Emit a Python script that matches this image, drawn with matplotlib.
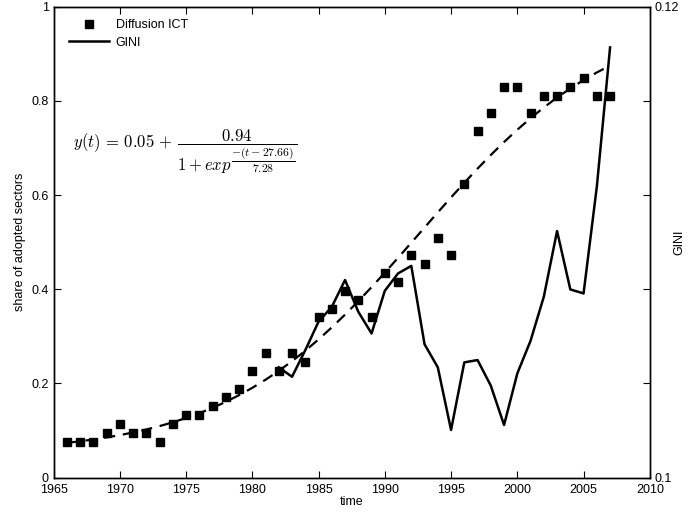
import matplotlib
matplotlib.use('Agg')
import matplotlib.pyplot as plt
import numpy as np

plt.rcParams['font.family'] = ['Liberation Sans', 'DejaVu Sans']
plt.rcParams['mathtext.fontset'] = 'cm'

# share of adopted sectors (squares), 1966-2007
years = np.arange(1966, 2008)
diffusion = [0.0755, 0.0755, 0.0755, 0.094, 0.113, 0.094, 0.094, 0.0755, 0.113, 0.132,
             0.132, 0.151, 0.170, 0.189, 0.226, 0.264, 0.226, 0.264, 0.245, 0.340,
             0.358, 0.396, 0.377, 0.340, 0.434, 0.415, 0.472, 0.453, 0.509, 0.472,
             0.623, 0.736, 0.774, 0.830, 0.830, 0.774, 0.811, 0.811, 0.830, 0.849,
             0.811, 0.811]

# GINI (right axis), 1982-2007
gini_years = np.arange(1982, 2008)
gini = [0.10468, 0.10428, 0.10541, 0.10662, 0.10725, 0.10839, 0.10704, 0.10612, 0.10793, 0.10867,
        0.10899, 0.10566, 0.10468, 0.10202, 0.10489, 0.10499, 0.10390, 0.10223, 0.10442, 0.10581,
        0.10768, 0.11047, 0.10799, 0.10782, 0.11235, 0.11827]

# logistic fit parameters shown on the chart, t = year - 1965
fit_a, fit_b, fit_t0, fit_s = 0.05, 0.94, 27.66, 7.28
t = years - 1965
fit = fit_a + fit_b / (1 + np.exp(-(t - fit_t0) / fit_s))

fig = plt.figure(figsize=(6.95, 5.16), dpi=100)
ax = fig.add_axes([0.077, 0.0746, 0.858, 0.9124])
ax2 = ax.twinx()

sq, = ax.plot(years, diffusion, 's', color='black', markersize=5.5, label='Diffusion ICT')
ax.plot(years, fit, '--', color='black', linewidth=1.6, dashes=(5, 3.5))
gl, = ax2.plot(gini_years, gini, '-', color='black', linewidth=1.8, label='GINI')

ax.set_xlim(1965, 2010)
ax.set_ylim(0, 1)
ax.set_xticks(np.arange(1965, 2011, 5))
ax.set_yticks([0, 0.2, 0.4, 0.6, 0.8, 1])
ax.set_yticklabels(['0', '0.2', '0.4', '0.6', '0.8', '1'])
ax2.set_ylim(0.1, 0.12)
ax2.set_yticks(np.linspace(0.1, 0.12, 6))
ax2.set_yticklabels(['0.1', '', '', '', '', '0.12'])

ax.tick_params(direction='in', labelsize=9, top=True, length=5, width=0.8)
ax.tick_params(axis='x', pad=5)
ax2.tick_params(direction='in', labelsize=9, length=5, width=0.8)
for a in (ax, ax2):
    for s in a.spines.values():
        s.set_linewidth(1.0)

ax.set_xlabel('time', fontsize=9, labelpad=0)
ax.set_ylabel('share of adopted sectors', fontsize=9, labelpad=4)
ax2.set_ylabel('GINI', fontsize=9)
ax2.yaxis.set_label_coords(1.04, 0.5)

ax.text(1966.5, 0.70,
        r'$y(t)\,=\,0.05\,+\,\dfrac{0.94}{1+exp^{\dfrac{-(t-27.66)}{7.28}}}$',
        fontsize=12, va='baseline', ha='left')

ax.legend([sq, gl], ['Diffusion ICT', 'GINI'], loc='upper left', frameon=False,
          fontsize=9, bbox_to_anchor=(0.012, 0.992), handlelength=3.2,
          handletextpad=0.5, borderaxespad=0.3, labelspacing=0.45)

fig.savefig('out.png', dpi=100)
